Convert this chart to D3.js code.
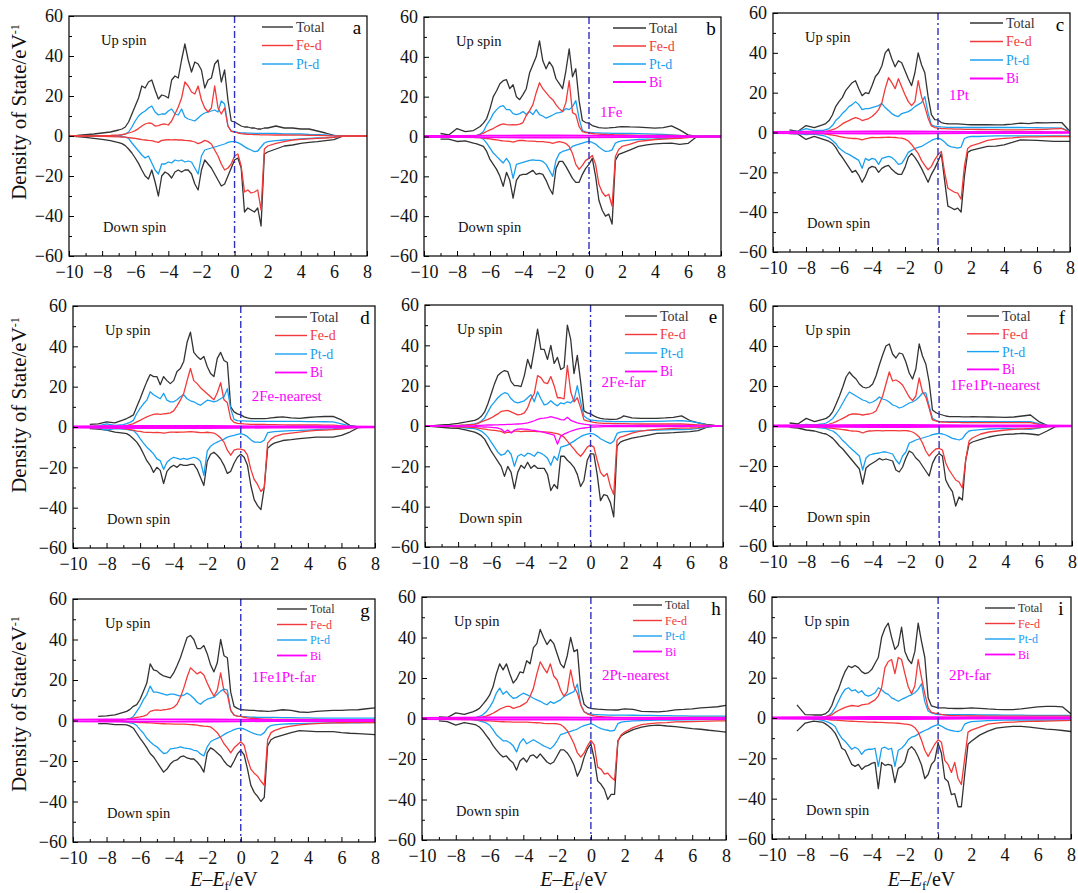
<!DOCTYPE html>
<html><head><meta charset="utf-8">
<script src="https://cdn.jsdelivr.net/npm/d3@7"></script>
<style>body{margin:0;background:#fff}svg{display:block}</style>
</head><body><svg id="chart" width="1078" height="893"></svg>
<script>
// ---------- shared axes data ----------
const energy = [-10,-9.5,-9,-8.5,-8,-7.5,
 -7,-6.8,-6.6,-6.4,-6.2,-6,-5.8,-5.6,-5.4,-5.2,
 -5,-4.8,-4.6,-4.4,-4.2,-4,-3.8,-3.6,-3.4,-3.2,
 -3,-2.8,-2.6,-2.4,-2.2,-2,-1.8,-1.6,-1.4,-1.2,
 -1,-0.8,-0.6,-0.4,-0.2,0,0.2,0.4,0.6,0.8,
 1,1.2,1.4,1.6,1.8,2,
 2.5,3,3.5,4,4.5,5,5.5,6,6.5,7,7.5,8];
const biEnergy = [-10,-8,-6,-4,-2,0,2,4,6,8];
const xTicks = [-10,-8,-6,-4,-2,0,2,4,6,8];
const xMinorTicks = [-9,-7,-5,-3,-1,1,3,5,7];
const yTicks = [-60,-40,-20,0,20,40,60];
const yMinorTicks = [-50,-30,-10,10,30,50];
const seriesNames = ["Total","Fe-d","Pt-d","Bi"];
const panelLetters = ["a","b","c","d","e","f","g","h","i"];
const panelTags = ["","1Fe","1Pt","2Fe-nearest","2Fe-far","1Fe1Pt-nearest","1Fe1Pt-far","2Pt-nearest","2Pt-far"];

// ---------- panel a ----------
const aTotalUp=[0,0.3,0.7,1,1.5,2, 3,3.5,4.5,7,11,15,19,25,24,27, 28,23,18.5,20.5,20,19,28,30,29,38, 46,38,32,37,36,33,24,28,29,36, 38,27,33,18,7.5,7,6,5,4.5,4.5, 4,4,3.5,3.5,4,4, 5,4,4,3.5,3.5,2.5,1.5,0.3,0,0,0,0];
const aTotalDn=[0,-0.3,-0.7,-1.2,-1.7,-2.3, -3.3,-3.8,-4.8,-6.5,-8.5,-11,-13.7,-17,-20,-21.5, -17,-23,-30,-20,-18,-19,-21,-18,-17,-18, -17,-17,-19,-24,-27,-17,-12,-14,-16,-19, -22,-25,-24,-20,-16,-12,-11,-16,-38,-36, -37,-38,-36,-45,-9,-8, -6.5,-5,-4.5,-3.7,-3.2,-2.8,-2.3,-1.8,-0.2,0,0,0];
const aFeUp=[0,0,0,0.1,0.2,0.3, 0.5,0.7,1,1.5,2,2.7,3.7,5,6,6.5, 6.3,5,5.2,5.8,6,5.5,7.5,11,14.5,19, 27,25,22,21,25,18,14,12,14,25, 14,11,14,5,2.3,2,1.5,1.2,1,0.8, 0.8,0.7,0.7,0.6,0.6,0.6, 0.5,0.5,0.4,0.4,0.3,0.3,0.2,0.1,0,0,0,0];
const aFeDn=[0,0,0,-0.1,-0.2,-0.3, -0.4,-0.5,-0.6,-0.8,-1,-1.2,-1.5,-1.8,-2,-2.2, -2.3,-2.8,-3.2,-2.2,-2,-1.8,-1.9,-1.8,-2,-2, -2.2,-2.3,-2.5,-3,-3.8,-3.2,-2.2,-2.8,-4,-7, -10,-14,-17,-16,-14,-10,-9,-15,-28,-27, -28.5,-28,-27,-37,-6.5,-5, -3.7,-2.8,-2,-1.7,-1.4,-1.2,-1,-0.7,-0.2,0,0,0];
const aPtUp=[0,0,0,0,0,0, 0.2,0.5,1,2,4.5,7.5,10,11.5,12.5,14, 15,12,10.5,11,11,12.5,13.5,11,10.5,13.5, 9.5,8.5,8,7.5,9,10.5,11.5,12,12.5,13, 12,17.5,16,5,2.5,2.2,1.8,1.6,1.5,1.4, 1.4,1.3,1.3,1.3,1.3,1.3, 1.3,1.1,1,1,0.8,0.7,0.5,0.3,0,0,0,0];
const aPtDn=[0,0,0,0,0,0, 0,-0.3,-0.6,-1.2,-3.5,-5.5,-7.5,-9.5,-11,-10, -13.5,-17,-19,-14,-14,-13,-13.5,-12,-12.5,-12, -13,-12.5,-13,-16,-19,-10,-7,-6.5,-6,-5.5, -5,-4.5,-4,-3.2,-2.8,-2.8,-3.3,-4.2,-5.3,-6.3, -7,-7.8,-7.5,-5.5,-3.5,-2.8, -2.3,-2,-1.8,-1.5,-1.2,-1,-0.8,-0.5,-0.1,0,0,0];

// ---------- panel b ----------
const bTotalUp=[null,null,1.5,0.8,4,2.5, 3,4,5,6.7,9,14,20,23,26.5,28, 28.5,24,26,20,18.5,21,24,32,36,40, 48,38,34,37.5,35,29,26.5,24,33,44, 30,34,18,8,7,6.7,5.5,5,4.5,4.3, 4.2,4.3,4.5,4.6,4.8,5, 4.8,4.7,4.5,4.2,4.5,5.3,3.3,0.8,0,0,0,0];
const bTotalDn=[null,null,-1.3,-1.3,-2.5,-2.2, -3.3,-3.7,-4.3,-5,-7.5,-11.5,-14,-16.5,-20,-25, -18,-22,-31,-22,-19.5,-19,-19,-18,-17,-19, -18.5,-19,-22,-26,-29,-16,-12.5,-12.5,-15,-18, -21,-23,-23,-19,-16,-14,-11,-20,-32,-37, -40,-39,-44,-12,-9,-8.3, -6.7,-5,-4.2,-3.7,-3.5,-3.3,-4,-3.5,-0.3,0,0,0];
const bFeUp=[null,null,0,0,0.1,0.2, 0.2,0.4,1,1.7,2.5,3.3,4,5,5.8,6.3, 6,5.8,6,5.8,6.2,7,10.5,13,16,22, 27,24,22,20,18.5,16,14,12.5,17,28, 12,11,5,2.5,2,1.8,1.5,1.3,1.2,1, 1,0.9,0.9,0.8,0.8,0.8, 0.7,0.6,0.6,0.5,0.5,0.5,0.4,0.2,0,0,0,0];
const bFeDn=[null,null,0,-0.1,-0.2,-0.3, -0.4,-0.5,-0.6,-0.8,-1,-1.2,-1.5,-1.7,-2,-2.2, -2.3,-2.5,-2.8,-2.3,-2,-2,-2.2,-2.3,-2.3,-2.5, -2.6,-2.6,-2.8,-3,-3.4,-3,-2.6,-3,-3.5,-5, -8.5,-14,-16.5,-14.5,-12,-11,-9.5,-14,-24,-28, -30,-29,-35,-10,-6.5,-5, -3.8,-2.5,-2,-1.5,-1.3,-1.1,-0.9,-0.5,0,0,0,0];
const bPtUp=[null,null,0,0,0,0, 0.2,0.6,1.2,2.5,5.8,8.3,11.5,13.5,15,15.5, 13.5,13.5,11.5,11,11.5,12.5,11,12.5,11,13.5, 11,10.3,9.2,10,10.8,11.7,12,12.5,14,13.5, 15,18,9,3,2.3,2,1.9,1.8,1.8,1.7, 1.7,1.7,1.6,1.6,1.6,1.5, 1.5,1.4,1.3,1.2,1,0.8,0.6,0.3,0,0,0,0];
const bPtDn=[null,null,0,0,0,0, 0,-0.2,-0.5,-1.3,-3.3,-5.8,-8.3,-10,-11.7,-13.3, -11,-13.5,-21,-14,-13.5,-13,-12.5,-12,-11.7,-12, -12,-12.5,-14,-17,-20,-12,-8.5,-7.5,-7,-6.5, -5,-4.3,-3.8,-3.3,-2.8,-2.5,-3,-3.8,-5.3,-6.5, -7.5,-7.3,-6.7,-3.3,-2.6,-2.2, -1.8,-1.5,-1.3,-1.2,-1,-0.8,-0.6,-0.3,0,0,0,0];
const bBiUp=[0.3,0.3,0.4,0.5,0.5,0.4,0.3,0.3,0.2,0.2];
const bBiDn=[-0.3,-0.3,-0.4,-0.5,-0.5,-0.4,-0.3,-0.3,-0.2,-0.2];

// ---------- panel c ----------
const cTotalUp=[null,null,1.3,0.5,3.5,2.5, 3.8,4.5,6,8.8,13,15.5,17.5,21,23,25, 26,22,18.5,20,19.5,23.5,28,30,33.5,40, 42,37,33,36,35,31,27,23.5,30,40, 34,30,18,9,6.5,6.3,5,4.6,4.4,4.3, 4.3,4.3,4.2,4.1,4,3.9, 3.9,3.9,3.8,3.9,4.2,4.7,4.5,5,4.8,5,5,0.5];
const cTotalDn=[null,null,-0.5,-0.7,-3.5,-2, -3.3,-3.8,-4.5,-5.5,-7.5,-10.3,-12.5,-15,-17.5,-20, -19,-21.5,-25,-22,-18,-17,-17.5,-20,-18,-17, -16.5,-18.5,-20,-21,-21,-17.5,-12.5,-10.5,-12.5,-15, -18,-21.5,-25,-21,-18,-14.5,-10.5,-24,-37,-37.8, -38.7,-38,-40,-22,-10,-9, -8,-7,-6.8,-6.2,-5,-3.7,-3.8,-4,-4.2,-4.5,-4.5,-4.5];
const cFeUp=[null,null,0.3,0.3,0.3,0.3, 0.3,0.6,1,1.5,2,3,4.3,5.2,6,6.8, 7.5,7,6,6.5,7,8,9.5,11.5,15,22, 27.5,25,22,27,23,19,15.5,13.5,15.5,26, 18,13,7.2,3.3,2.5,2.2,2,1.9,1.8,1.8, 1.7,1.7,1.7,1.6,1.6,1.6, 1.5,1.4,1.4,1.3,1.3,1.3,1.4,1.5,1.6,1.8,2,0.2];
const cFeDn=[null,null,-0.3,-0.3,-0.5,-0.5, -0.6,-0.8,-1,-1.3,-1.6,-2,-2.3,-2.6,-2.8,-3, -3,-3.2,-3.7,-3.2,-2.8,-2.5,-2.6,-2.6,-2.5,-2.4, -2.3,-2.4,-2.5,-2.7,-2.8,-3.3,-4.3,-6,-8.3,-10.5, -14,-16.5,-18.7,-17,-13.7,-11.2,-9.5,-20,-28,-29, -30,-30.5,-33.5,-17,-8,-6.7, -5.5,-4,-3.3,-3,-2.7,-2.3,-2.2,-2.2,-2.1,-2,-2,-2];
const cPtUp=[null,null,0.5,0.5,2,1, 1,1.5,2,3.5,6,7.5,9.5,11,13,14, 15.5,14,11.5,12,12,12.5,13,13.5,14.5,12.5, 11,9.5,8.5,8,9.5,10,10.5,11.5,13,14, 15,18,9.7,3.8,3.2,3,2.8,2.7,2.6,2.5, 2.5,2.5,2.5,2.5,2.5,2.5, 2.5,2.5,2.5,2.5,2.5,2.5,2.4,2.4,2.3,2.3,2.2,0.5];
const cPtDn=[null,null,-0.3,-0.5,-1,-0.8, -1.5,-2,-2.7,-4,-5.5,-7.8,-9,-10.3,-11,-12, -13,-14,-18,-13,-14,-13,-13.5,-16,-13,-12.5, -12,-12.5,-14,-16,-15.5,-13,-10,-9,-8,-7.5, -7,-6,-5,-4,-3.3,-2.8,-3.5,-4.8,-6.5,-7.2, -7.5,-7.8,-7.3,-3,-2.3,-2, -2,-1.8,-1.7,-1.7,-1.7,-1.7,-1.7,-1.7,-1.7,-1.7,-1.7,-1.7];
const cBiUp=[0.3,0.4,0.4,0.5,0.5,0.4,0.3,0.3,0.3,0.2];
const cBiDn=[-0.3,-0.4,-0.4,-0.5,-0.5,-0.4,-0.3,-0.3,-0.3,-0.2];

// ---------- panel d ----------
const dTotalUp=[null,null,1.3,1.5,2.5,2, 3.5,4.2,5,6,10,14,18.3,22.5,26,25, 25,21,25,23,21.5,23,27.5,29,32.5,42, 47,37,35,33.5,35,30,26.5,25,34,37, 33,32,10,7.5,6.5,6,5,4.5,4.2,4.2, 4.2,4.2,4.2,4.3,4.5,4.7, 5,4.5,4.3,4.7,5,5.2,5.3,3.5,0.8,0,0,0];
const dTotalDn=[null,null,-0.8,-1,-1.5,-2.5, -3,-3.3,-4.3,-5.8,-7.5,-10,-13.3,-16.7,-19,-22.5, -20,-21.5,-28,-22,-20,-19,-20,-18.5,-19,-19, -18.5,-18.5,-21,-25,-29,-17,-13.5,-12.5,-14,-16, -19,-23,-22,-18,-15,-13.5,-15,-19,-29,-36, -39,-41,-30,-10.5,-9,-8, -6.7,-6.3,-5.8,-5.4,-5,-5,-5,-4.2,-2.5,-0.3,0,0];
const dFeUp=[null,null,0.3,0.3,0.5,0.3, 0.3,0.7,1.2,1.7,2.5,3.3,4.2,5,5.7,6.3, 6.5,6.3,6.5,6.7,7,8,10.5,13.3,16.7,23, 29,23,21.5,19.5,18,16.5,15,13.5,17,22, 13.5,12,4,2.3,1.8,1.7,1.5,1.4,1.3,1.3, 1.3,1.3,1.3,1.2,1.2,1.2, 1.1,1,1,1,1,0.9,0.9,0.6,0.2,0,0,0];
const dFeDn=[null,null,-0.3,-0.3,-0.5,-0.5, -0.8,-1,-1.3,-1.6,-2,-2.2,-2.5,-2.7,-2.7,-2.8, -2.7,-2.8,-3,-2.8,-2.5,-2.5,-2.6,-2.5,-2.5,-2.4, -2.3,-2.4,-2.6,-2.8,-2.8,-2.6,-2.8,-3,-4,-5.5, -7.5,-11.5,-14,-11.5,-11,-11,-11.5,-14,-21,-26, -28.5,-32,-30,-8,-6,-4.8, -3.5,-3,-2.5,-2,-1.7,-1.5,-1.3,-1,-0.6,-0.1,0,0];
const dPtUp=[null,null,0.3,0.5,1.5,0.8, 1.2,1.7,2.3,3.3,6.7,9.2,11.5,13.3,17.5,16, 15,14,16.7,13.3,12.5,12.5,13.5,15,16,14, 13,12.5,11.5,10.8,12,13.3,13,12.5,13,14, 15,19,9,3.8,3.2,3,3,2.9,2.9,2.8, 2.8,2.8,2.8,2.8,2.8,2.8, 2.8,2.8,2.8,2.7,2.7,2.6,2.5,1.5,0.5,0,0,0];
const dPtDn=[null,null,-0.3,-0.5,-1.5,-0.8, -1,-1.2,-1.5,-1.8,-3.3,-5.8,-8,-10,-11.5,-13.3, -15.8,-16.7,-21,-17.5,-16,-15,-15.5,-16,-15.5,-16, -15.5,-15,-15.5,-17,-24,-12,-9.5,-8.3,-7.5,-6.7, -6,-5,-4.5,-4.2,-3.7,-3.3,-3.8,-4.8,-6.3,-7.5, -7.5,-7.6,-6.5,-2.8,-2.5,-2.3, -2,-1.8,-1.7,-1.5,-1.3,-1.1,-1,-0.5,-0.2,0,0,0];
const dBiUp=[0.3,0.4,0.5,0.5,0.5,0.4,0.3,0.3,0.3,0.2];
const dBiDn=[-0.3,-0.4,-0.5,-0.5,-0.5,-0.4,-0.3,-0.3,-0.3,-0.2];

// ---------- panel e ----------
const eTotalUp=[0,0.2,0.5,0.8,1.3,2, 2.8,3.5,4.8,7,11,16,21,25,26.5,27.5, 27,22,20,20,19.5,25,33,28.5,38,48, 38,38,33,40,31,34,28,29,50,43, 26,35,22,7.5,6.5,6,5,4.3,3.8,3.5, 3.4,3.3,3.3,3.4,4,5, 4,3.8,3.8,3.8,4,4.3,5,2.7,1.5,0.8,0.3,0];
const eTotalDn=[0,-0.3,-0.7,-1,-1.2,-2, -3,-3.8,-4.8,-6.5,-9.5,-12.5,-15,-17.5,-20,-25, -20,-23,-31,-23,-19.5,-21,-18,-21,-19.5,-21, -21,-21,-24,-32,-29,-31,-15,-15,-17,-18.5, -20.5,-24,-30,-27,-17,-13.7,-14,-24,-37,-34, -34.5,-38,-45,-10,-8,-7.3, -6,-5.3,-4.5,-3.7,-3.5,-3.3,-3,-2.8,-2.3,-0.7,0,0];
const eFeUp=[0,0,0,0.1,0.3,0.5, 0.8,1.3,2,2.7,3.3,4,5,6,7.2,7.5, 7.7,7,6.3,5.5,5.8,6.5,9,13.5,16,25, 24,21.5,21,24.5,20,14,14,13.5,30,17, 12,14,9,3,2.5,2.2,1.8,1.5,1.4,1.3, 1.3,1.3,1.2,1.2,1.2,1.2, 1.1,1,1,1,1,1,1,0.8,0.6,0.4,0.1,0];
const eFeDn=[0,0,-0.2,-0.3,-0.5,-0.6, -0.8,-1,-1.3,-1.5,-1.8,-2,-2.2,-2.4,-2.7,-3.5, -3,-3.2,-2.5,-2.5,-2.8,-2.6,-2.6,-2.7,-2.7,-2.8, -2.8,-2.9,-3,-3.2,-3.5,-3.8,-4.5,-5.5,-7.5,-9.5, -11.5,-13.5,-15,-13,-10.5,-9.5,-10.5,-17,-23,-25, -23.5,-30,-34,-7,-5.5,-5, -3.5,-2.5,-2,-1.7,-1.4,-1.2,-1.1,-1,-0.8,-0.3,0,0];
const ePtUp=[0,0,0,0,0.2,0.5, 1,1.5,2.5,4,7,10,12,14,15.5,16.5, 16,13.5,12,11.5,12,12.5,14,15.5,12,17, 13.5,10.5,11,12.5,11,10,11.5,11,12,11.5, 13,20,12,5,3.7,3,2.8,2.6,2.5,2.4, 2.3,2.3,2.2,2.2,2.2,2.2, 2.2,2.2,2.3,2.3,2.4,2.5,2.6,2.3,1.7,0.6,0.1,0];
const ePtDn=[0,0,0,-0.2,-0.5,-1, -1.3,-1.8,-2.5,-3.8,-5.5,-8,-10.5,-13,-14.5,-14, -12,-14,-20,-15,-14,-15,-13.5,-14,-15,-13, -13.5,-14.5,-16,-19.5,-15,-17,-10.5,-10,-9.5,-8.5, -7.5,-6.3,-5.3,-4.5,-4,-3.7,-4,-5,-6.3,-7.2, -8,-8.7,-7.5,-3.7,-3,-2.8, -2.6,-2.4,-2.2,-2,-1.9,-1.8,-1.8,-1.7,-1.2,-0.6,0,0];
const eBiUp=[0,0,0,0,0,0.1, 0.2,0.3,0.3,0.4,0.5,0.5,0.6,0.6,0.7,0.7, 0.8,0.8,0.9,1,1.1,1.3,1.6,2,2.6,3.3, 3.8,3.9,4.2,4.6,4.2,3.8,3.2,3,4.3,2.8, 2.2,1.6,1.2,0.9,0.7,0.5,0.4,0.4,0.3,0.3, 0.3,0.3,0.3,0.3,0.3,0.3, 0.3,0.3,0.3,0.3,0.3,0.3,0.3,0.2,0.1,0.1,0,0];
const eBiDn=[0,0,0,0,0,-0.1, -0.2,-0.3,-0.4,-0.5,-0.6,-0.7,-0.8,-1,-1.5,-3, -2,-3.5,-2,-1.5,-1.4,-1.5,-1.7,-2,-2.2,-2.5, -2.8,-3.2,-3.7,-4,-4.5,-9,-5,-4,-3.3,-2.6, -2,-1.6,-1.2,-1,-0.8,-0.6,-0.5,-0.4,-0.4,-0.3, -0.3,-0.3,-0.3,-0.3,-0.3,-0.3, -0.3,-0.3,-0.3,-0.3,-0.3,-0.3,-0.3,-0.2,-0.1,-0.1,0,0];

// ---------- panel f ----------
const fTotalUp=[null,null,1.5,1,3.8,2.2, 3.3,3.8,5,7.2,11,15,19.5,24.5,27,25, 23.5,21,19.5,19,19.5,21,25,30.5,35.5,40, 41,36,34,36.5,36,32,26.5,23.5,28.5,41, 35,31,22,8,6.7,6,5.5,5,4.7,4.7, 4.7,4.7,4.6,4.6,4.6,4.7, 4.6,4.5,4.4,4.3,4.5,5,5.5,2.2,0.3,0,0,0];
const fTotalDn=[null,null,-0.7,-1,-2,-2.5, -3.7,-4,-5,-6.2,-8,-10,-11.5,-13.5,-15.5,-17.5, -19.5,-21.5,-29,-21,-19.5,-18.5,-17.5,-16.2,-17,-16.5, -17,-17.5,-22,-23,-20.5,-16,-12.5,-13.5,-16,-17.5, -20,-22.5,-25,-18.7,-15.3,-13.7,-15,-27,-30.3,-32.8, -40,-35.5,-37,-17,-9,-8, -6.7,-5.5,-4.7,-4.2,-4,-3.7,-4,-4.5,-2.5,-0.3,0,0];
const fFeUp=[null,null,0.2,0.2,0.3,0.3, 0.3,0.5,1,1.5,2.2,3,3.8,4.7,5.7,6, 6,5.8,5.5,5.8,6,6.5,7.5,11,15,21, 27,22.5,23,22,20.5,17.5,14.5,12.7,15,24, 17,14.5,9,3,2.5,2.2,2,1.9,1.8,1.8, 1.8,1.8,1.7,1.7,1.7,1.7, 1.7,1.7,1.7,1.7,1.7,1.7,1.7,0.8,0.2,0,0,0];
const fFeDn=[null,null,-0.2,-0.3,-0.4,-0.5, -0.6,-0.8,-1,-1.2,-1.4,-1.6,-1.8,-2,-2.3,-2.5, -2.6,-2.8,-3.5,-2.8,-2.5,-2.4,-2.3,-2.3,-2.4,-2.3, -2.3,-2.3,-2.3,-2.4,-2.3,-2.3,-2.5,-3,-4,-5.5, -8.5,-12.5,-15,-13,-11.5,-11.2,-12,-18.5,-22,-24.5, -27,-28,-31,-17,-7.5,-6, -4,-3,-2.5,-2,-1.7,-1.4,-1.2,-0.8,-0.3,0,0,0];
const fPtUp=[null,null,0.2,0.3,0.8,0.5, 1,1.5,2.5,3.8,6,8.5,11.5,14.5,17,16, 15,14,13,12.5,11.5,12,13,14.5,13.5,13, 12,10.5,10,9,9.5,10.5,11.5,12,13,14.5, 16.5,16.5,10,3.8,2.8,2.2,2.2,2.2,2.2,2.2, 2.2,2.2,2.2,2.2,2.2,2.2, 2.2,2.2,2.2,2.2,2.2,2.2,2.2,1.2,0.3,0,0,0];
const fPtDn=[null,null,-0.3,-0.4,-0.6,-0.7, -1,-1.3,-2,-2.5,-3.7,-5.3,-7.3,-8.8,-10.5,-12, -13.5,-15,-22,-16,-14.5,-14,-13.7,-13.5,-13,-13, -13.5,-14,-17,-19,-15,-13,-8.5,-7.8,-7,-6.5, -6,-5.5,-5,-4.3,-4,-3.7,-4,-4.5,-5.3,-6.2, -6.5,-7,-6.3,-4,-2.5,-2.2, -1.8,-1.5,-1.3,-1.2,-1.4,-1.6,-1.7,-1,-0.3,0,0,0];
const fBiUp=[0.3,0.4,0.4,0.5,0.5,0.4,0.3,0.3,0.3,0.2];
const fBiDn=[-0.3,-0.4,-0.4,-0.5,-0.5,-0.4,-0.3,-0.3,-0.3,-0.2];

// ---------- panel g ----------
const gTotalUp=[null,null,null,2,2.3,2.8, 4,4.5,5.5,7,7.8,10.5,14.5,18.5,28,25, 24.5,23,22,21.5,21,23.5,27,31,36,41, 42,40,35.5,35.5,37,33,27.5,24,28.5,40, 32,31,14,7,6,5.3,5.2,5.1,5,5, 4.8,4.7,4.6,4.5,4.6,4.8, 5.3,5,4.2,4,4.5,4.8,5,5,5.2,5.3,5.8,6.2];
const gTotalDn=[null,null,null,-1.5,-1.5,-2, -2,-2.2,-2.8,-3.8,-6.3,-8.8,-11,-13.5,-16.3,-18, -20.5,-23,-25.5,-24,-21.5,-20,-19.5,-18,-17.5,-18.5, -19,-19,-20.5,-22.5,-25.5,-16,-13.5,-14.5,-16,-17.5, -20,-22,-23,-20,-16.5,-14.7,-17,-24,-32,-35.5, -37.5,-40,-38,-12.5,-9.5,-8.5, -7.2,-6,-5,-5.2,-5.5,-5.5,-5.5,-6,-6.3,-6.5,-6.7,-7];
const gFeUp=[null,null,null,0,0.1,0.2, 0.3,0.5,0.8,1.2,1.5,1.8,2.2,2.8,4.5,5, 5.2,5,5.3,5.5,5.8,6.5,8,11.5,16,21.5, 26,24.5,23,24,22.5,18.5,15,12,15,23.5, 14.5,12.8,5,2.6,2.2,2,1.6,1.3,1.1,1, 0.9,0.8,0.7,0.7,0.7,0.6, 0.6,0.5,0.5,0.5,0.5,0.4,0.4,0.4,0.4,0.4,0.4,0.4];
const gFeDn=[null,null,null,-0.2,-0.3,-0.4, -0.5,-0.6,-0.7,-0.8,-0.9,-1,-1,-1.1,-1.2,-1.3, -1.4,-1.5,-1.6,-1.7,-1.7,-1.8,-1.8,-1.8,-1.8,-1.9, -2,-2.1,-2.3,-2.6,-2.8,-2.9,-3.2,-4.5,-6,-8.5, -11.5,-13.5,-16,-13.5,-12,-10.5,-12.2,-19,-24,-26, -27.5,-30,-32,-9.5,-6,-5, -3.5,-2.8,-2.2,-1.8,-1.5,-1.3,-1.2,-1.1,-1,-1,-1,-1];
const gPtUp=[null,null,null,0,0,0, 0.3,0.6,1,2,4.5,7,10.3,12.8,17,14, 14,13.5,13,12.5,13,13,12.5,12,12.5,13.5, 12.5,11,9,8,9.5,10.5,11,11.5,13,14.5, 15.5,15,5,2.6,2.2,2,1.9,1.8,1.7,1.6, 1.5,1.5,1.5,1.5,1.5,1.5, 1.4,1.4,1.3,1.3,1.2,1.2,1.2,1.2,1.2,1.2,1.2,1.2];
const gPtDn=[null,null,null,0,0,0, -0.5,-0.8,-1.2,-1.5,-2.5,-4.5,-6.3,-8.8,-10.5,-12, -13,-14.7,-16.3,-16,-14,-13.8,-13.5,-13,-13.5,-13.8, -14,-14.7,-15,-16.5,-17.5,-13,-10.5,-9.5,-8.8,-8, -7,-6,-5.3,-4.5,-4,-3.8,-4.2,-5,-5.8,-6.5, -7,-7.2,-6,-3.5,-2.5,-2.2, -1.8,-1.6,-1.5,-1.4,-1.3,-1.3,-1.2,-1.2,-1.1,-1.1,-1,-1];
const gBiUp=[0.4,0.5,0.6,0.6,0.5,0.4,0.3,0.3,0.3,0.3];
const gBiDn=[-0.4,-0.5,-0.6,-0.6,-0.5,-0.4,-0.3,-0.3,-0.3,-0.3];

// ---------- panel h ----------
const hTotalUp=[null,null,0.8,0.5,2.8,2, 3.3,4,5,7,9,11.5,15.5,22,27,24, 27,22,17.5,19.5,23,22.5,28.5,27,35,37, 44,40,36.5,39,37,32,27,25,31,40, 33,34,14,7,5.5,5,4.8,4.6,4.5,4.4, 4.3,4.3,4.2,4.2,4.5,4.8, 4.5,3.5,3.4,3.3,3.6,4.3,4.5,4.8,5.2,5.5,5.8,6.5];
const hTotalDn=[null,null,-1.2,-1.5,-3.3,-2, -2.8,-3.2,-4.2,-6,-8.3,-10.5,-13.3,-15.5,-17.5,-19, -18.5,-20.5,-22,-25.5,-21,-19.5,-21.5,-18.5,-18,-19.5, -17.5,-19.5,-21.5,-22.5,-21.5,-18.5,-15.5,-15.5,-17,-19.5, -23,-28.5,-25,-19.2,-15,-12.5,-20,-30.8,-32.5,-35, -40,-37.5,-37.5,-11,-8.5,-7.5, -5.5,-4.3,-3.5,-3.3,-3.7,-4,-4.5,-5,-5.3,-5.8,-6.2,-6.7];
const hFeUp=[null,null,0,0,0,0.1, 0.3,0.4,0.5,0.8,1.2,1.8,2.6,3.5,4.6,5.3, 6,6,5,5.5,6,7,8,11,15,22, 28,25,22.5,27,21,19,14.2,11,13.3,24, 15.8,12.5,6.7,3.3,2.2,1.7,1.3,1,0.9,0.8, 0.7,0.7,0.6,0.6,0.6,0.5, 0.5,0.5,0.5,0.5,0.5,0.5,0.5,0.5,0.5,0.5,0.5,0.5];
const hFeDn=[null,null,-0.2,-0.3,-0.4,-0.5, -0.6,-0.7,-0.8,-1,-1.1,-1.2,-1.3,-1.4,-1.5,-1.6, -1.7,-1.7,-1.8,-1.8,-1.8,-1.8,-1.8,-1.9,-2,-2.1, -2.2,-2.4,-2.5,-2.5,-2.5,-2.6,-3,-4.2,-6,-9, -12.5,-17,-19,-17,-13.5,-10.8,-13,-24,-25,-27.5, -27,-29,-30.5,-11,-8,-6.7, -4.5,-3,-2.5,-2.2,-2,-1.7,-1.6,-1.5,-1.4,-1.3,-1.2,-1.2];
const hPtUp=[null,null,0,0,0,0, 0.3,0.5,1,1.8,3.3,5.5,8.3,12.5,15,12, 13.5,11.5,10,10.3,11.5,12.5,11.8,11,10,9.2, 8.5,7.5,6.8,8.3,7.5,8.3,9.2,10.8,11.7,12.5, 13.3,17,6.7,3.3,2.5,2.2,2,1.9,1.8,1.8, 1.7,1.7,1.7,1.7,1.7,1.7, 1.6,1.5,1.5,1.4,1.4,1.3,1.3,1.2,1.2,1.2,1.2,1.2];
const hPtDn=[null,null,0,0,0,0, -0.5,-0.8,-1.2,-1.7,-2.2,-3.3,-5.5,-8,-9.5,-11, -11,-12,-13.5,-16.5,-12,-10,-12.5,-11.5,-10.5,-11.5, -12.5,-13.5,-14.2,-15,-13.5,-11,-8,-7.5,-6.8,-6.3, -5.8,-5.2,-4.2,-3.5,-3,-2.5,-3.2,-4.2,-5,-5.5, -5.8,-6.2,-5.8,-2.5,-1.8,-1.5, -1.2,-1,-0.9,-0.8,-0.8,-0.8,-0.7,-0.7,-0.6,-0.6,-0.6,-0.6];
const hBiUp=[0.3,0.4,0.5,0.5,0.5,0.4,0.3,0.3,0.3,0.3];
const hBiDn=[-0.3,-0.4,-0.5,-0.5,-0.5,-0.5,-0.4,-0.3,-0.3,-0.3];

// ---------- panel i ----------
const iTotalUp=[null,null,null,6.5,1.7,1.5, 1.5,2,3.3,6.2,10.8,14.2,19,23,25.8,25, 26,25,23,22,22.5,24,27,30,40,44.5, 47,40,34,36,45,33,29,27,33,47, 38,30,10,6,5.5,5,5,5,4.8,4.8, 4.7,4.7,4.7,4.8,4.9,5, 4.8,4.5,4.3,4.2,4.2,4.5,5,5.5,5.8,5.8,5.5,2];
const iTotalDn=[null,null,null,-6.5,-2.5,-1.5, -2,-2.8,-4,-5.5,-7.5,-10.8,-15,-16,-19.5,-23, -24,-23,-25.5,-24,-23.5,-22.5,-22,-35,-22,-23.5, -23,-23.5,-32,-25,-24,-21.7,-15.8,-14.2,-16,-19.2, -23.3,-30,-28,-23,-21,-12.5,-17.5,-30,-31.5,-38, -37.5,-44,-44,-28,-13,-11.5, -8.5,-6.5,-5,-4.5,-4.2,-4.2,-4.5,-5,-5.5,-5.8,-6.2,-6.7];
const iFeUp=[null,null,null,0,0,0, 0.3,0.5,1,1.5,2.8,3.7,4.5,5.3,5.8,6.2, 6,5.8,6.5,6.8,7,8,9,11,15,25, 28,29,22,30,29,22,15.5,12,16,29, 20,12,5,2.8,2.4,2.2,1.8,1.5,1.3,1.2, 1.2,1.2,1.1,1.1,1,1, 1,0.9,0.9,0.9,0.9,0.9,0.9,0.9,0.9,0.9,0.9,0.9];
const iFeDn=[null,null,null,0,-0.2,-0.3, -0.5,-0.6,-0.8,-1,-1.1,-1.2,-1.3,-1.4,-1.5,-1.6, -1.7,-1.8,-1.8,-1.9,-2,-2,-2.1,-2.2,-2.2,-2.3, -2.4,-2.4,-2.5,-2.6,-2.8,-3,-3.2,-3.6,-4.8,-7, -11,-16,-19,-16,-13,-10.8,-12,-21,-23,-27, -22,-30,-33,-20,-7,-6, -4.5,-3,-2.5,-2.2,-2,-1.8,-1.7,-1.6,-1.5,-1.4,-1.3,-1.2];
const iPtUp=[null,null,null,0,0,0, 0.3,0.6,1.2,2.5,5,8.3,11.7,14.2,15,13.5, 14,12.5,13.5,11.5,10.8,11.5,12.5,15,14,12.5, 11.7,10,9.2,8.3,9.2,10,10.8,11.5,12.5,14.2, 17,8,3.5,2.5,2,1.7,1.7,1.6,1.6,1.6, 1.6,1.6,1.6,1.6,1.6,1.6, 1.5,1.5,1.5,1.4,1.4,1.4,1.3,1.3,1.3,1.3,1.3,1.3];
const iPtDn=[null,null,null,0,-0.3,-0.5, -1,-1.5,-2.2,-3,-4.2,-7.5,-10,-11.5,-13.5,-15.5, -14.5,-15.5,-18,-16,-15.5,-15.5,-15,-24,-15,-14.5, -15.5,-15,-24,-16,-15,-13.3,-10.8,-9.5,-9,-8, -7,-6.2,-5.5,-4.5,-3.8,-3.3,-4,-5,-5.8,-6.2, -6.5,-6.7,-6.2,-3,-2.3,-1.8, -1.5,-1.3,-1.2,-1.1,-1,-1,-1,-1,-1,-1,-1,-1];
const iBiUp=[0.3,0.4,0.4,0.5,0.5,0.4,0.3,0.3,0.3,0.3];
const iBiDn=[-0.3,-0.4,-0.4,-0.5,-0.5,-0.4,-0.3,-0.3,-0.3,-0.3];

// ---------- assembly ----------
const panelData = [
  {total:[aTotalUp,aTotalDn], fe:[aFeUp,aFeDn], pt:[aPtUp,aPtDn], bi:null, biX:null},
  {total:[bTotalUp,bTotalDn], fe:[bFeUp,bFeDn], pt:[bPtUp,bPtDn], bi:[bBiUp,bBiDn], biX:biEnergy},
  {total:[cTotalUp,cTotalDn], fe:[cFeUp,cFeDn], pt:[cPtUp,cPtDn], bi:[cBiUp,cBiDn], biX:biEnergy},
  {total:[dTotalUp,dTotalDn], fe:[dFeUp,dFeDn], pt:[dPtUp,dPtDn], bi:[dBiUp,dBiDn], biX:biEnergy},
  {total:[eTotalUp,eTotalDn], fe:[eFeUp,eFeDn], pt:[ePtUp,ePtDn], bi:[eBiUp,eBiDn], biX:energy},
  {total:[fTotalUp,fTotalDn], fe:[fFeUp,fFeDn], pt:[fPtUp,fPtDn], bi:[fBiUp,fBiDn], biX:biEnergy},
  {total:[gTotalUp,gTotalDn], fe:[gFeUp,gFeDn], pt:[gPtUp,gPtDn], bi:[gBiUp,gBiDn], biX:biEnergy},
  {total:[hTotalUp,hTotalDn], fe:[hFeUp,hFeDn], pt:[hPtUp,hPtDn], bi:[hBiUp,hBiDn], biX:biEnergy},
  {total:[iTotalUp,iTotalDn], fe:[iFeUp,iFeDn], pt:[iPtUp,iPtDn], bi:[iBiUp,iBiDn], biX:biEnergy}
];

// layout (pixel geometry only)
const layout = [
  {x0:69, x1:367, y0:16, y1:256, tagDy:0, lgStart:105, lgLen:31, lgTop:11, lgGap:18.5, lgSize:14},
  {x0:424,x1:721, y0:17, y1:256, tagDy:20, lgStart:108, lgLen:33, lgTop:11, lgGap:18, lgSize:14},
  {x0:773,x1:1070,y0:13, y1:252, tagDy:33, lgStart:100, lgLen:33, lgTop:10, lgGap:18.5, lgSize:14},
  {x0:73, x1:375, y0:306,y1:548, tagDy:26, lgStart:100, lgLen:32, lgTop:11, lgGap:18.5, lgSize:14},
  {x0:425,x1:723, y0:305,y1:547, tagDy:39, lgStart:98, lgLen:32, lgTop:11, lgGap:18.5, lgSize:14},
  {x0:773,x1:1072,y0:306,y1:546, tagDy:36, lgStart:105, lgLen:32, lgTop:10, lgGap:17.8, lgSize:14},
  {x0:73, x1:375, y0:599,y1:842, tagDy:39, lgStart:98, lgLen:30, lgTop:10, lgGap:15.5, lgSize:12},
  {x0:422,x1:726, y0:597,y1:840, tagDy:39, lgStart:93, lgLen:29, lgTop:8, lgGap:15.5, lgSize:12},
  {x0:772,x1:1071,y0:597,y1:839, tagDy:38, lgStart:86, lgLen:30, lgTop:11, lgGap:15.5, lgSize:12}
];
const rowLabelY = [112, 405, 704];
const colors = {total:"#333333", fe:"#f23a3a", pt:"#1aa0f0", bi:"#ff00ff", ef:"#3030c0"};
const FONT = '"Liberation Serif","Times New Roman",Times,serif';

const svg = d3.select("#chart");
const fmt = d => d < 0 ? "\u2212" + Math.abs(d) : String(d);

panelData.forEach((P, k) => {
  const L = layout[k];
  const x = d3.scaleLinear().domain([-10, 8]).range([L.x0, L.x1]);
  const y = d3.scaleLinear().domain([-60, 60]).range([L.y1, L.y0]);
  const g = svg.append("g");
  const clipId = "clip" + k;
  g.append("clipPath").attr("id", clipId).append("rect")
    .attr("x", L.x0).attr("y", L.y0).attr("width", L.x1 - L.x0).attr("height", L.y1 - L.y0);

  const line = d3.line().defined(d => d[1] !== null && d[1] !== undefined)
    .x(d => x(d[0])).y(d => y(d[1]));
  const pts = (xs, vs) => xs.map((e, i) => [e, vs[i]]);
  const plot = g.append("g").attr("clip-path", `url(#${clipId})`);

  const draw = (xs, arr, color, w) => arr.forEach(vs =>
    plot.append("path").attr("d", line(pts(xs, vs))).attr("fill", "none")
      .attr("stroke", color).attr("stroke-width", w).attr("stroke-linejoin", "round"));

  draw(energy, P.total, colors.total, 1.3);
  draw(energy, P.pt, colors.pt, 1.3);
  draw(energy, P.fe, colors.fe, 1.3);
  if (P.bi) draw(P.biX, P.bi, colors.bi, k === 4 ? 1.3 : 1.8);

  // Fermi level
  plot.append("line").attr("x1", x(0)).attr("x2", x(0)).attr("y1", L.y0).attr("y2", L.y1)
    .attr("stroke", colors.ef).attr("stroke-width", 1.4).attr("stroke-dasharray", "7,3,2,3");

  // axes
  const styleAxis = s => {
    s.select(".domain").remove();
    s.selectAll("line").attr("stroke", "#000").attr("stroke-width", 1);
    s.selectAll("text").attr("font-family", FONT).attr("font-size", 18).attr("fill", "#111");
  };
  g.append("g").attr("transform", `translate(0,${L.y1})`)
    .call(d3.axisBottom(x).tickValues(xTicks).tickSizeInner(-5).tickSizeOuter(0).tickPadding(9).tickFormat(fmt))
    .call(styleAxis);
  g.append("g").attr("transform", `translate(0,${L.y1})`)
    .call(d3.axisBottom(x).tickValues(xMinorTicks).tickSizeInner(-3).tickSizeOuter(0).tickFormat(""))
    .call(styleAxis);
  g.append("g").attr("transform", `translate(${L.x0},0)`)
    .call(d3.axisLeft(y).tickValues(yTicks).tickSizeInner(-5).tickSizeOuter(0).tickPadding(6).tickFormat(fmt))
    .call(styleAxis);
  g.append("g").attr("transform", `translate(${L.x0},0)`)
    .call(d3.axisLeft(y).tickValues(yMinorTicks).tickSizeInner(-3).tickSizeOuter(0).tickFormat(""))
    .call(styleAxis);

  g.append("rect").attr("x", L.x0).attr("y", L.y0).attr("width", L.x1 - L.x0).attr("height", L.y1 - L.y0)
    .attr("fill", "none").attr("stroke", "#000").attr("stroke-width", 1.2);

  // legend
  const entries = [[seriesNames[0], colors.total], [seriesNames[1], colors.fe], [seriesNames[2], colors.pt]];
  if (P.bi) entries.push([seriesNames[3], colors.bi]);
  entries.forEach((en, j) => {
    const ly = L.y0 + L.lgTop + j * L.lgGap;
    const lx = L.x1 - L.lgStart;
    g.append("line").attr("x1", lx).attr("x2", lx + L.lgLen).attr("y1", ly).attr("y2", ly)
      .attr("stroke", en[1]).attr("stroke-width", en[0] === "Bi" ? 1.8 : 1.4);
    g.append("text").attr("x", lx + L.lgLen + 3).attr("y", ly).attr("dy", "0.35em")
      .attr("font-family", FONT).attr("font-size", L.lgSize).attr("fill", en[1]).text(en[0]);
  });

  // panel letter
  g.append("text").attr("x", L.x1 - 10).attr("y", L.y0 + 18).attr("text-anchor", "middle")
    .attr("font-family", FONT).attr("font-size", 19).attr("fill", "#000").text(panelLetters[k]);

  // spin labels
  g.append("text").attr("x", L.x0 + 32).attr("y", L.y0 + 29)
    .attr("font-family", FONT).attr("font-size", 14.5).attr("fill", "#111").text("Up spin");
  g.append("text").attr("x", L.x0 + 34).attr("y", L.y1 - 24)
    .attr("font-family", FONT).attr("font-size", 14.5).attr("fill", "#111").text("Down spin");

  // structure tag
  if (panelTags[k]) {
    g.append("text").attr("x", x(0) + 11).attr("y", y(0) - L.tagDy)
      .attr("font-family", FONT).attr("font-size", 15).attr("fill", colors.bi).text(panelTags[k]);
  }

  // y-axis title on first column
  if (k % 3 === 0) {
    const t = g.append("text").attr("transform", `translate(26,${rowLabelY[k / 3]}) rotate(-90)`)
      .attr("text-anchor", "middle").attr("font-family", FONT).attr("font-size", 21).attr("fill", "#111");
    t.append("tspan").text("Density of State/eV");
    t.append("tspan").attr("dy", -7).attr("font-size", 12).text("-1");
  }
  // x-axis title on bottom row
  if (k >= 6) {
    const t = g.append("text").attr("x", (L.x0 + L.x1) / 2).attr("y", 886)
      .attr("text-anchor", "middle").attr("font-family", FONT).attr("font-size", 20).attr("fill", "#111");
    t.append("tspan").attr("font-style", "italic").text("E");
    t.append("tspan").text("\u2013");
    t.append("tspan").attr("font-style", "italic").text("E");
    t.append("tspan").attr("dy", 4).attr("font-size", 13).text("f");
    t.append("tspan").attr("dy", -4).text("/eV");
  }
});
</script></body></html>
